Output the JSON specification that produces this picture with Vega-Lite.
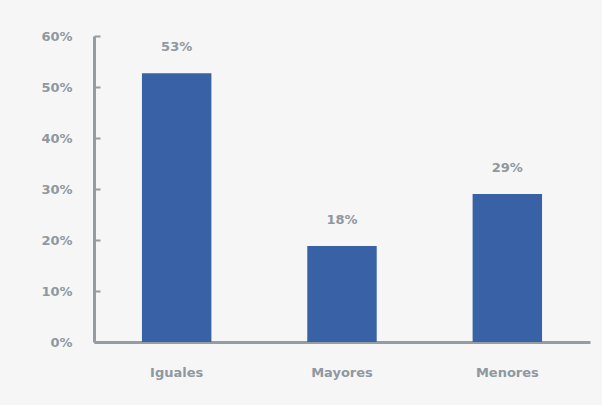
{
  "$schema": "https://vega.github.io/schema/vega-lite/v6.json",
  "width": 496,
  "height": 306,
  "autosize": {"type": "none"},
  "padding": {"left": 94, "top": 36, "right": 12, "bottom": 63},
  "background": "#f6f6f6",
  "config": {
    "view": {"stroke": null},
    "font": "DejaVu Sans",
    "axis": {
      "domainColor": "#959ca3",
      "domainWidth": 3,
      "tickColor": "#959ca3",
      "tickWidth": 2,
      "labelColor": "#8f98a1",
      "labelFont": "DejaVu Sans",
      "labelFontWeight": "bold",
      "labelFontSize": 13,
      "grid": false,
      "title": null
    }
  },
  "data": {
    "values": [
      {"categoria": "Iguales", "valor": 0.527, "etiqueta": "53%"},
      {"categoria": "Mayores", "valor": 0.188, "etiqueta": "18%"},
      {"categoria": "Menores", "valor": 0.29, "etiqueta": "29%"}
    ]
  },
  "encoding": {
    "x": {
      "field": "categoria",
      "type": "nominal",
      "sort": null,
      "scale": {"paddingInner": 0.58, "paddingOuter": 0.29},
      "axis": {"labelAngle": 0, "ticks": false, "labelPadding": 24}
    },
    "y": {
      "field": "valor",
      "type": "quantitative",
      "scale": {"domain": [0, 0.6], "nice": false},
      "axis": {"format": ".0%", "values": [0, 0.1, 0.2, 0.3, 0.4, 0.5, 0.6], "tickSize": -6, "labelPadding": 28}
    }
  },
  "layer": [
    {"mark": {"type": "bar", "color": "#3861a6"}},
    {
      "mark": {"type": "text", "baseline": "bottom", "dy": -19, "color": "#8f98a1", "fontWeight": "bold", "fontSize": 13, "font": "DejaVu Sans"},
      "encoding": {"text": {"field": "etiqueta"}}
    }
  ]
}
